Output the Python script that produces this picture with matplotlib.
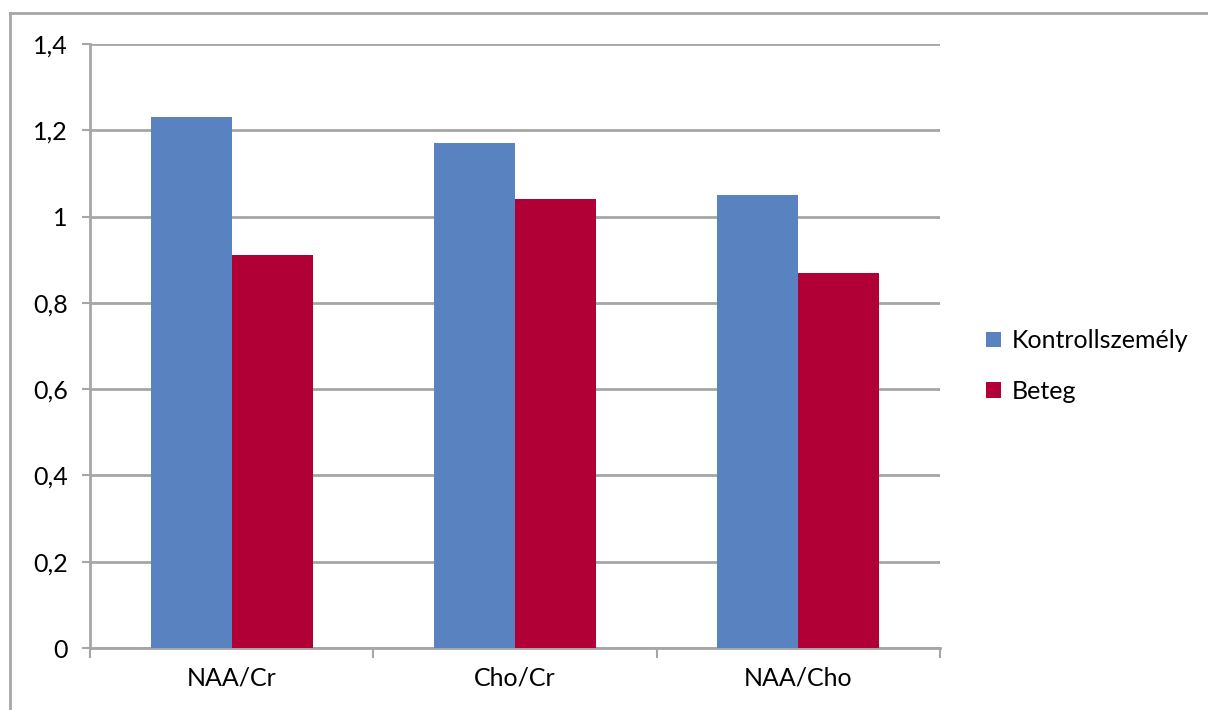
import matplotlib
matplotlib.use("Agg")
import matplotlib.pyplot as plt
from matplotlib.lines import Line2D
import numpy as np

categories = ["NAA/Cr", "Cho/Cr", "NAA/Cho"]
kontroll = [1.23, 1.17, 1.05]
beteg = [0.91, 1.04, 0.87]
series_names = ["Kontrollszemély", "Beteg"]
yticks = [0, 0.2, 0.4, 0.6, 0.8, 1.0, 1.2, 1.4]
ytick_labels = ["0", "0,2", "0,4", "0,6", "0,8", "1", "1,2", "1,4"]

plt.rcParams["font.family"] = ["Lato", "DejaVu Sans"]

W, H = 1208, 710
fig = plt.figure(figsize=(W / 100, H / 100), dpi=100)
ax = fig.add_axes([90 / W, 1 - 648 / H, 850 / W, 604 / H])

blue = "#5882C0"
red = "#B00036"
grid_c = "#A6A6A6"

x = np.arange(len(categories))
bw = 0.286
ax.bar(x - bw / 2, kontroll, bw, color=blue, label=series_names[0], zorder=3)
ax.bar(x + bw / 2, beteg, bw, color=red, label=series_names[1], zorder=3)

ax.set_xlim(-0.5, len(categories) - 0.5)
ax.set_ylim(0, 1.4)
ax.set_yticks(yticks)
ax.set_yticklabels(ytick_labels, fontsize=18)
ax.yaxis.grid(True, color=grid_c, linewidth=2, zorder=0)
ax.set_axisbelow(True)

ax.set_xticks(np.arange(-0.5, len(categories), 1.0))
ax.set_xticklabels([])
ax.set_xticks(x, minor=True)
ax.set_xticklabels(categories, minor=True, fontsize=18)
ax.tick_params(axis="x", which="minor", length=0, pad=13)
ax.tick_params(axis="x", which="major", length=7, width=1.5, color=grid_c, direction="out")
ax.tick_params(axis="y", length=6, width=1.5, color=grid_c, pad=10)

for side in ["top", "right"]:
    ax.spines[side].set_visible(False)
for side in ["left", "bottom"]:
    ax.spines[side].set_color(grid_c)
    ax.spines[side].set_linewidth(2)

ax.legend(loc="center left", bbox_to_anchor=(976 / W, 1 - 366 / H),
          bbox_transform=fig.transFigure, frameon=False, fontsize=18,
          handlelength=0.6, handleheight=0.6, handletextpad=0.45,
          labelspacing=1.1, borderaxespad=0)

# outer chart frame (left and top edges)
fig.add_artist(Line2D([10 / W, 10 / W], [0, 1 - 13 / H], transform=fig.transFigure,
                      color=grid_c, linewidth=2))
fig.add_artist(Line2D([10 / W, 1], [1 - 13 / H, 1 - 13 / H], transform=fig.transFigure,
                      color=grid_c, linewidth=2))

fig.savefig("out.png", dpi=100)
